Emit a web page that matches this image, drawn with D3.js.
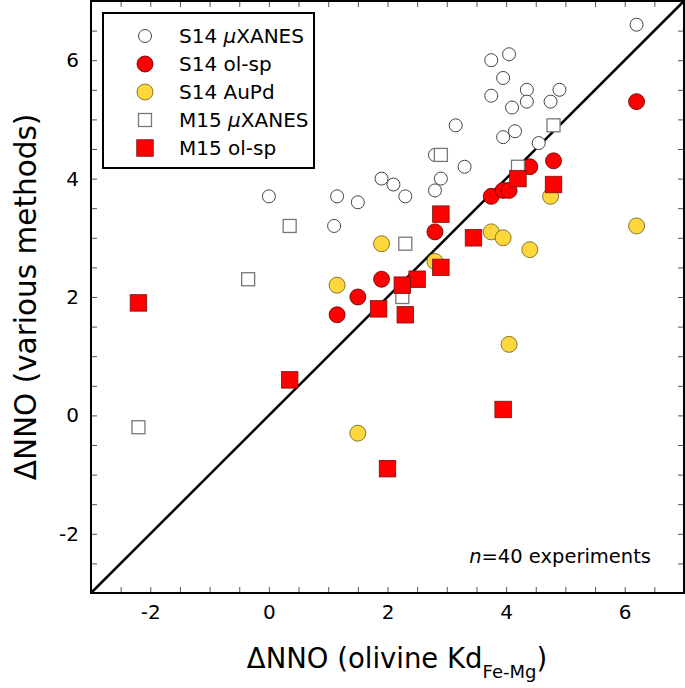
<!DOCTYPE html>
<html><head><meta charset="utf-8">
<script src="https://cdn.jsdelivr.net/npm/d3@7"></script>
<style>body{margin:0;background:#fff}svg{display:block;font-family:"DejaVu Sans",sans-serif}</style>
</head><body><svg id="c" width="685" height="688"></svg>
<script>
// Data
const s14XanesX = [6.2,3.75,4.05,3.95,3.75,4.35,4.35,4.1,4.75,4.9,3.15,3.95,4.15,4.55,3.3,2.9,2.8,1.9,2.1,2.3,2.8,0.0,1.15,1.5,1.1];
const s14XanesY = [6.6,6.0,6.1,5.7,5.4,5.5,5.3,5.2,5.3,5.5,4.9,4.7,4.8,4.6,4.2,4.0,3.8,4.0,3.9,3.7,4.4,3.7,3.7,3.6,3.2];
const s14OlspX = [6.2,4.4,4.8,3.75,3.95,4.05,2.8,1.9,1.5,1.15];
const s14OlspY = [5.3,4.2,4.3,3.7,3.8,3.8,3.1,2.3,2.0,1.7];
const s14AupdX = [6.2,4.75,3.75,3.95,4.4,2.8,1.9,1.15,4.05,1.5];
const s14AupdY = [3.2,3.7,3.1,3.0,2.8,2.6,2.9,2.2,1.2,-0.3];
const m15XanesX = [4.8,2.9,4.2,0.35,2.3,-0.35,2.25,-2.2];
const m15XanesY = [4.9,4.4,4.2,3.2,2.9,2.3,2.0,-0.2];
const m15OlspX = [4.2,4.8,2.9,3.45,2.9,2.5,2.25,1.85,2.3,-2.2,0.35,3.95,2.0];
const m15OlspY = [4.0,3.9,3.4,3.0,2.5,2.3,2.2,1.8,1.7,1.9,0.6,0.1,-0.9];
const seriesNames = ["S14 \u03bcXANES","S14 ol-sp","S14 AuPd","M15 \u03bcXANES","M15 ol-sp"];
const axisDomain = [-3,7];
const tickLabels = [-2,0,2,4,6];

const svg = d3.select("#c");
const L=91,R=684,T=1,B=593;
const x = d3.scaleLinear().domain(axisDomain).range([L,R]);
const y = d3.scaleLinear().domain(axisDomain).range([B,T]);
const allTicks = d3.range(-3,7.001,0.5);
const fmt = d => tickLabels.includes(d) ? String(d) : "";

const styles = [
  {shape:"circle", size:6.5, fill:"#fff", stroke:"#444", sw:1},
  {shape:"circle", size:8, fill:"#ff0000", stroke:"#5a0000", sw:0.8},
  {shape:"circle", size:8, fill:"#fdd73c", stroke:"#6b5a12", sw:0.8},
  {shape:"square", size:13, fill:"#fff", stroke:"#777", sw:1.3},
  {shape:"square", size:16.5, fill:"#ff0000", stroke:"#7a1010", sw:0.8}
];
const series = [
  d3.zip(s14XanesX,s14XanesY), d3.zip(s14OlspX,s14OlspY), d3.zip(s14AupdX,s14AupdY),
  d3.zip(m15XanesX,m15XanesY), d3.zip(m15OlspX,m15OlspY)
];

// axes with inward ticks on all sides
const tickStyle = g => { g.select(".domain").remove(); g.selectAll(".tick line").attr("stroke","#555").attr("stroke-width",1);
  g.selectAll("text").attr("font-size",20).attr("fill","#000").attr("font-family","DejaVu Sans"); };
svg.append("g").attr("transform",`translate(0,${B})`).call(d3.axisBottom(x).tickValues(allTicks).tickSize(-6).tickPadding(12).tickFormat(fmt)).call(tickStyle);
svg.append("g").attr("transform",`translate(0,${T})`).call(d3.axisTop(x).tickValues(allTicks).tickSize(-6).tickFormat("")).call(tickStyle);
svg.append("g").attr("transform",`translate(${L},0)`).call(d3.axisLeft(y).tickValues(allTicks).tickSize(-6).tickPadding(12).tickFormat(fmt)).call(tickStyle);
svg.append("g").attr("transform",`translate(${R},0)`).call(d3.axisRight(y).tickValues(allTicks).tickSize(-6).tickFormat("")).call(tickStyle);

// 1:1 line
svg.append("line").attr("x1",x(-3)).attr("y1",y(-3)).attr("x2",x(7)).attr("y2",y(7)).attr("stroke","#000").attr("stroke-width",2.5);

function drawMarker(g, st, cx, cy){
  if(st.shape==="circle") g.append("circle").attr("cx",cx).attr("cy",cy).attr("r",st.size).attr("fill",st.fill).attr("stroke",st.stroke).attr("stroke-width",st.sw);
  else g.append("rect").attr("x",cx-st.size/2).attr("y",cy-st.size/2).attr("width",st.size).attr("height",st.size).attr("fill",st.fill).attr("stroke",st.stroke).attr("stroke-width",st.sw);
}
series.forEach((pts,i)=>{
  const g = svg.append("g");
  pts.forEach(p=>drawMarker(g, styles[i], x(p[0]), y(p[1])));
});

// frame
svg.append("rect").attr("x",L).attr("y",T).attr("width",R-L).attr("height",B-T).attr("fill","none").attr("stroke","#000").attr("stroke-width",2);

// legend
const lg = svg.append("g");
lg.append("rect").attr("x",103).attr("y",13).attr("width",211).attr("height",155).attr("fill","#fff").attr("stroke","#000").attr("stroke-width",2);
const rowsY=[36,64,92,120,148];
seriesNames.forEach((nm,i)=>{
  drawMarker(lg, styles[i], 145, rowsY[i]);
  const t = lg.append("text").attr("x",179).attr("y",rowsY[i]+7).attr("font-size",20);
  if(nm.includes("\u03bc")){
    const parts = nm.split("\u03bc");
    t.append("tspan").text(parts[0]);
    t.append("tspan").attr("font-style","italic").text("\u03bc");
    t.append("tspan").text(parts[1]);
  } else t.text(nm);
});

// annotation
const ann = svg.append("text").attr("x",651).attr("y",563).attr("text-anchor","end").attr("font-size",19.5);
ann.append("tspan").attr("font-style","italic").text("n");
ann.append("tspan").text("=40 experiments");

// axis titles
const xt = svg.append("text").attr("x",397).attr("y",668).attr("text-anchor","middle").attr("font-size",27.5);
xt.append("tspan").text("\u0394NNO (olivine Kd");
xt.append("tspan").attr("font-size",18).attr("dy",10).text("Fe-Mg");
xt.append("tspan").attr("dy",-10).text(")");
svg.append("text").attr("transform","translate(36,297) rotate(-90)").attr("text-anchor","middle").attr("font-size",29.5).text("\u0394NNO (various methods)");
</script></body></html>
